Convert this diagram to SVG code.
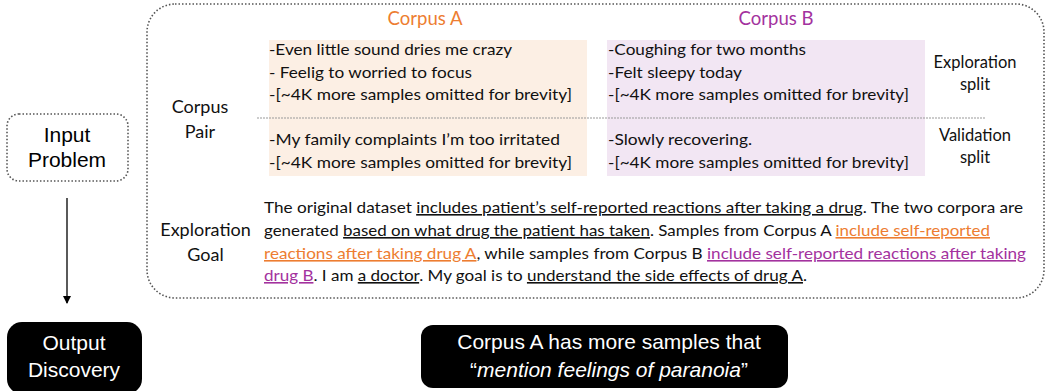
<svg xmlns="http://www.w3.org/2000/svg" width="1045" height="391" viewBox="0 0 1045 391">
<style>
.dot{fill:none;stroke:#555;stroke-width:1.6;stroke-dasharray:1.5 2}
.c{font-family:Lato,"Liberation Sans",sans-serif;font-size:16px;fill:#111}
.h{font-family:"Liberation Sans",Arial,sans-serif;font-size:21px}
.lab{font-size:18px}
.tt{font-size:19px}
.sp{font-size:16.5px}
.u{text-decoration:underline}
.or{fill:#ED7D31}
.pu{fill:#A3329E}
</style>
<defs>
<marker id="ah" markerWidth="8" markerHeight="8" refX="7" refY="4" orient="auto" markerUnits="userSpaceOnUse">
<path d="M0,0 L8,4 L0,8 z" fill="#000"/>
</marker>
</defs>
<rect width="1045" height="391" fill="#fff"/>

<g id="input-problem">
<rect class="dot" x="7" y="114" width="121" height="67" rx="12"/>
<text class="h" x="67" y="142" text-anchor="middle">Input</text>
<text class="h" x="67" y="167" text-anchor="middle">Problem</text>
</g>

<g id="connectors">
<line x1="67" y1="198" x2="67" y2="303" stroke="#000" stroke-width="1.3" marker-end="url(#ah)"/>
</g>

<g id="output-discovery">
<rect x="7" y="322" width="135" height="72" rx="15" fill="#000"/>
<text class="h" x="74" y="350" text-anchor="middle" fill="#fff">Output</text>
<text class="h" x="74" y="377" text-anchor="middle" fill="#fff">Discovery</text>
</g>

<g id="problem-panel">
<rect class="dot" x="147" y="4" width="897" height="294" rx="28"/>
<rect x="269" y="40" width="318" height="136" fill="#FCEFE4"/>
<rect x="607" y="40" width="318" height="136" fill="#F2E6F3"/>
<line x1="257" y1="118" x2="986" y2="118" stroke="#999" stroke-width="1" stroke-dasharray="2 1"/>
<text class="c tt or" x="425" y="25" text-anchor="middle" textLength="75" lengthAdjust="spacingAndGlyphs">Corpus A</text>
<text class="c tt pu" x="776" y="25" text-anchor="middle" textLength="75" lengthAdjust="spacingAndGlyphs">Corpus B</text>

<text class="c lab" x="200" y="113" text-anchor="middle">Corpus</text>
<text class="c lab" x="200" y="138" text-anchor="middle">Pair</text>

<text class="c" x="269" y="55" textLength="243" lengthAdjust="spacingAndGlyphs">-Even little sound dries me crazy</text>
<text class="c" x="269" y="78" textLength="203" lengthAdjust="spacingAndGlyphs">- Feelig to worried to focus</text>
<text class="c" x="269" y="100" textLength="303" lengthAdjust="spacingAndGlyphs">-[~4K more samples omitted for brevity]</text>
<text class="c" x="269" y="145" textLength="291" lengthAdjust="spacingAndGlyphs">-My family complaints I’m too irritated</text>
<text class="c" x="269" y="168" textLength="303" lengthAdjust="spacingAndGlyphs">-[~4K more samples omitted for brevity]</text>

<text class="c" x="608" y="55" textLength="198" lengthAdjust="spacingAndGlyphs">-Coughing for two months</text>
<text class="c" x="608" y="78" textLength="134" lengthAdjust="spacingAndGlyphs">-Felt sleepy today</text>
<text class="c" x="608" y="100" textLength="301" lengthAdjust="spacingAndGlyphs">-[~4K more samples omitted for brevity]</text>
<text class="c" x="608" y="145" textLength="144" lengthAdjust="spacingAndGlyphs">-Slowly recovering.</text>
<text class="c" x="608" y="168" textLength="301" lengthAdjust="spacingAndGlyphs">-[~4K more samples omitted for brevity]</text>

<text class="c sp" x="975" y="68" text-anchor="middle">Exploration</text>
<text class="c sp" x="975" y="90" text-anchor="middle">split</text>
<text class="c sp" x="975" y="141" text-anchor="middle">Validation</text>
<text class="c sp" x="975" y="163" text-anchor="middle">split</text>

<text class="c lab" x="205.5" y="235.5" text-anchor="middle">Exploration</text>
<text class="c lab" x="205.5" y="260.5" text-anchor="middle">Goal</text>

<text class="c" x="264" y="213" textLength="759" lengthAdjust="spacingAndGlyphs">The original dataset <tspan class="u">includes patient’s self-reported reactions after taking a drug</tspan>. The two corpora are</text>
<text class="c" x="264" y="236" textLength="726" lengthAdjust="spacingAndGlyphs">generated <tspan class="u">based on what drug the patient has taken</tspan>. Samples from Corpus A <tspan class="u or">include self-reported</tspan></text>
<text class="c" x="264" y="259" textLength="762" lengthAdjust="spacingAndGlyphs"><tspan class="u or">reactions after taking drug A</tspan>, while samples from Corpus B <tspan class="u pu">include self-reported reactions after taking</tspan></text>
<text class="c" x="264" y="281" textLength="543" lengthAdjust="spacingAndGlyphs"><tspan class="u pu">drug B</tspan>. I am <tspan class="u">a doctor</tspan>. My goal is to <tspan class="u">understand the side effects of drug A</tspan>.</text>
</g>

<g id="discovery">
<rect x="421" y="325" width="367" height="63" rx="12" fill="#000"/>
<text class="h" x="609" y="349" text-anchor="middle" fill="#fff">Corpus A has more samples that</text>
<text class="h" x="609" y="376.5" text-anchor="middle" fill="#fff">“<tspan font-style="italic">mention feelings of paranoia</tspan>”</text>
</g>
</svg>
